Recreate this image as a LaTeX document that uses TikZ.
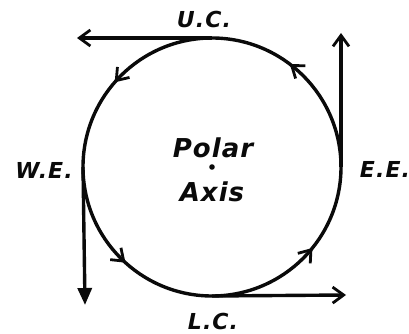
\documentclass[tikz,border=0pt]{standalone}
\usepackage{fontspec}
\usepackage{tikz}
\usetikzlibrary{arrows.meta,decorations.markings}
\newfontfamily\pointfont{DejaVu Sans}[LetterSpace=5]
\newfontfamily\axisfont{DejaVu Sans}[LetterSpace=4]
\definecolor{inkBlack}{RGB}{10,10,10}

\begin{document}
\begin{tikzpicture}[x=1pt,y=1pt,
    ink/.style={inkBlack, line width=3.4pt},
    barb/.style={-{Straight Barb[length=11pt,width=16pt,line width=2.8pt]}},
    tangent/.style={ink, barb},
    pointlabel/.style={text=inkBlack, font=\pointfont\bfseries\itshape\fontsize{22}{26}\selectfont},
    axislabel/.style={text=inkBlack, font=\axisfont\bfseries\itshape\fontsize{26}{31}\selectfont}]
    \useasboundingbox (0,0) rectangle (409,334);

    % the circle of the pole star, run counter-clockwise
    \coordinate (axis) at (212,167);
    \draw[ink, postaction={decorate}, decoration={markings,
        mark=at position 0.147 with {\arrow{Straight Barb[length=11pt,width=16pt,line width=2.8pt]}},
        mark=at position 0.386 with {\arrow{Straight Barb[length=11pt,width=16pt,line width=2.8pt]}},
        mark=at position 0.633 with {\arrow{Straight Barb[length=11pt,width=16pt,line width=2.8pt]}},
        mark=at position 0.892 with {\arrow{Straight Barb[length=11pt,width=16pt,line width=2.8pt]}}}]
        (axis) circle (129);
    \fill[inkBlack] (axis) circle (2.8pt);

    % culminations and elongations
    \coordinate (uc) at (212,296);
    \coordinate (ee) at (341,167);
    \coordinate (we) at (83,167);
    \coordinate (lc) at (212,38);
    \coordinate (ucTip) at (77,296);
    \coordinate (eeTip) at (341,301);
    \coordinate (weTip) at (85,29);
    \coordinate (lcTip) at (346,39);

    % tangent directions
    \draw[tangent] (uc) -- (ucTip);
    \draw[tangent] (ee) -- (eeTip);
    \draw[ink, -{Triangle[length=17pt,width=14pt]}] (we) -- (weTip);
    \draw[tangent] (lc) -- (lcTip);

    \node[pointlabel] (ucLabel) at (204,315) {U.C.};
    \node[pointlabel] (eeLabel) at (385,165) {E.E.};
    \node[pointlabel] (weLabel) at (44,164) {W.E.};
    \node[pointlabel] (lcLabel) at (213,13) {L.C.};
    \node[axislabel] (polar) at (213,186) {Polar};
    \node[axislabel] (axisText) at (212,142) {Axis};
\end{tikzpicture}
\end{document}
